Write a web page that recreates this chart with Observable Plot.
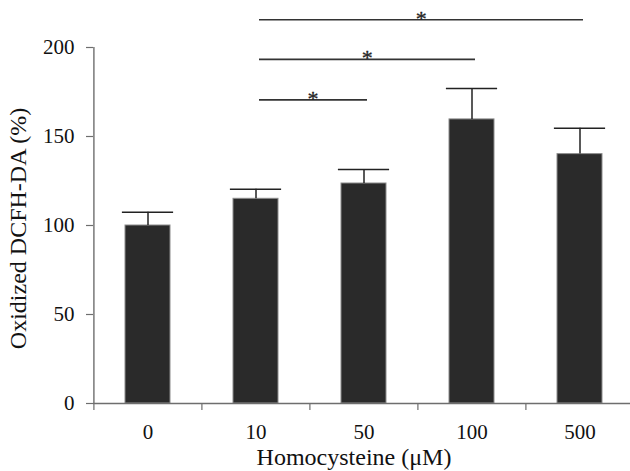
<!DOCTYPE html>
<html><head><meta charset="utf-8">
<script src="https://cdn.jsdelivr.net/npm/d3@7"></script>
<script src="https://cdn.jsdelivr.net/npm/@observablehq/plot@0.6"></script>
<style>body{margin:0;background:#fff} #chart svg{display:block}</style>
</head><body><div id="chart"></div>
<script>
// Data
const doses = ["0", "10", "50", "100", "500"];
const means = [100, 115, 123.6, 159.6, 140.1];
const upperErr = [107.5, 120.4, 131.5, 177, 154.7];
const yTicks = [0, 50, 100, 150, 200];
const sigFrom = ["10", "10", "10"];
const sigTo = ["50", "100", "500"];
const sigLevel = [170.6, 193.3, 215.6];
const sigMark = ["*", "*", "*"];
const xTitle = "Homocysteine (μM)";
const yTitle = "Oxidized DCFH-DA (%)";

const W = 630, H = 471, mL = 93, mR = -4, mT = 47, mB = 68;
const step = (W - mL - mR) / doses.length;
const font = "'Liberation Serif','Times New Roman',serif";
const axisGray = "#6e6e6e";

const data = doses.map((d, i) => ({dose: d, mean: means[i], hi: upperErr[i]}));
const sigs = sigFrom.map((f, i) => ({from: f, to: sigTo[i], y: sigLevel[i], t: sigMark[i]}));

const starMarks = sigs.map(s => Plot.text([s], {
  x: "from", y: "y", text: "t",
  dx: step * (doses.indexOf(s.to) - doses.indexOf(s.from)) / 2 + 3,
  dy: 6, lineAnchor: "bottom", fontSize: 22, fill: "#222", stroke: "#222", strokeWidth: 0.3
}));

const chart = Plot.plot({
  width: W, height: H,
  marginLeft: mL, marginRight: mR, marginTop: mT, marginBottom: mB,
  style: {fontFamily: font, background: "#fff", color: "#111"},
  x: {domain: doses, paddingInner: 0.58, paddingOuter: 0.29, align: 0.5, axis: null},
  y: {domain: [0, 200], axis: null},
  marks: [
    Plot.barY(data, {x: "dose", y: "mean", fill: "#2a2a2a", stroke: "#8c8c8c", strokeWidth: 1}),
    Plot.ruleX(data, {x: "dose", y1: "mean", y2: "hi", stroke: "#222", strokeWidth: 1.5}),
    Plot.tickY(data, {x: "dose", y: "hi", stroke: "#222", strokeWidth: 1.5, insetLeft: (step - 12) / 2, insetRight: (step - 12) / 2}),
    Plot.ruleY([0], {stroke: axisGray, strokeWidth: 1.4}),
    Plot.ruleX(doses.slice(0, 1), {x: d => d, dx: -step / 2, y1: 0, y2: 200, stroke: axisGray, strokeWidth: 1.4}),
    Plot.axisX({tickSize: 7, tickFormat: () => "", dx: -step / 2, stroke: axisGray, strokeWidth: 1.2, label: null}),
    Plot.axisX({tickSize: 0, tickPadding: 21, fontSize: 21, fill: "#111", label: null}),
    Plot.axisY({ticks: yTicks, tickSize: 7, tickPadding: 12, fontSize: 21, stroke: axisGray, strokeWidth: 1.2, fill: "#111", label: null}),
    Plot.link(sigs, {x1: "from", x2: "to", y1: "y", y2: "y", dx: 3, stroke: "#333", strokeWidth: 1.7}),
    ...starMarks,
    Plot.text([xTitle], {frameAnchor: "bottom", text: d => d, dy: 61, dx: -10, textAnchor: "middle", lineAnchor: "bottom", fontSize: 24, fill: "#111"}),
    Plot.text([yTitle], {frameAnchor: "left", text: d => d, rotate: -90, dx: -75, dy: 3, textAnchor: "middle", fontSize: 24, fill: "#111"})
  ]
});
document.getElementById("chart").appendChild(chart);
</script>
</body></html>
